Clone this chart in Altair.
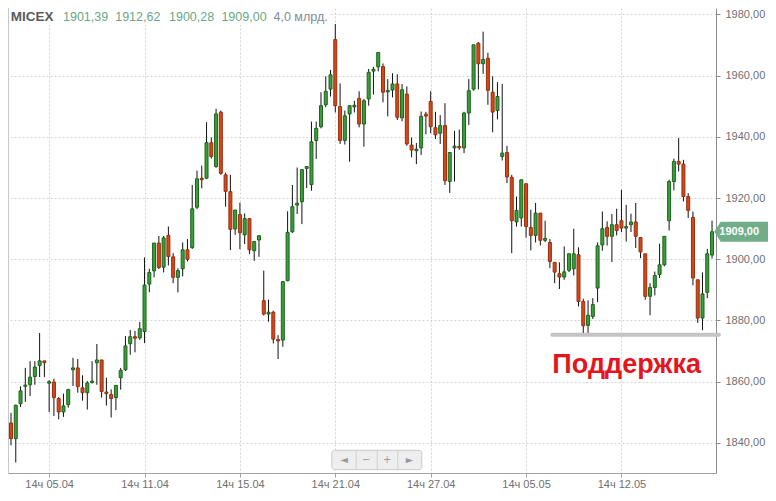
import altair as alt
import pandas as pd

# ---------------- data ----------------
opens = [1846.5, 1841.4, 1852.8, 1858.5, 1859.0, 1861.7, 1865.3, 1866.8, 1859.5, 1859.9,
         1854.5, 1850.1, 1852.5, 1863.9, 1864.5, 1858.0, 1856.4, 1859.7, 1866.2, 1867.1,
         1856.6, 1855.8, 1854.8, 1861.3, 1863.9, 1872.4, 1874.7, 1874.3, 1876.4, 1891.9,
         1896.2, 1905.3, 1897.4, 1907.8, 1900.8, 1894.1, 1896.9, 1903.1, 1903.8, 1917.0,
         1926.5, 1926.5, 1938.1, 1930.3, 1948.1, 1927.6, 1922.1, 1909.9, 1914.6, 1908.0,
         1913.3, 1902.8, 1906.3, 1886.5, 1882.1, 1882.7, 1873.8, 1873.6, 1893.0, 1909.0,
         1917.7, 1918.8, 1929.7, 1924.4, 1938.8, 1943.3, 1950.5, 1955.6, 1971.8, 1949.9,
         1938.8, 1947.5, 1949.8, 1952.6, 1944.2, 1952.4, 1961.5, 1962.9, 1963.0, 1954.7,
         1955.3, 1957.3, 1946.2, 1954.0, 1937.3, 1935.5, 1936.4, 1947.4, 1951.6, 1943.0,
         1941.2, 1943.7, 1925.4, 1936.4, 1936.9, 1936.4, 1947.8, 1955.6, 1970.6, 1963.9,
         1965.7, 1954.6, 1948.6, 1933.6, 1934.9, 1926.8, 1912.2, 1913.5, 1924.7, 1910.4,
         1907.8, 1915.1, 1906.2, 1905.5, 1899.0, 1895.3, 1894.2, 1896.4, 1896.9, 1901.5,
         1886.2, 1878.4, 1881.3, 1890.6, 1904.7, 1910.4, 1907.5, 1911.3, 1912.6, 1910.2,
         1911.3, 1912.2, 1907.1, 1901.8, 1887.9, 1890.8, 1895.0, 1898.2, 1912.6, 1925.4,
         1932.0, 1931.1, 1920.5, 1913.7, 1893.3, 1880.8, 1889.2, 1901.39]
highs = [1849.8, 1852.5, 1858.5, 1864.5, 1866.7, 1866.7, 1875.9, 1866.8, 1860.5, 1861.0,
         1855.0, 1856.1, 1857.7, 1867.8, 1867.4, 1862.1, 1860.2, 1866.7, 1872.3, 1867.1,
         1861.3, 1857.5, 1858.8, 1864.5, 1874.9, 1876.9, 1876.6, 1879.5, 1900.6, 1896.9,
         1905.3, 1907.6, 1907.6, 1910.7, 1902.0, 1897.1, 1905.5, 1906.6, 1924.3, 1929.0,
         1930.6, 1944.8, 1939.8, 1949.2, 1948.6, 1928.3, 1927.6, 1916.1, 1918.5, 1915.0,
         1913.3, 1905.8, 1907.7, 1896.3, 1886.8, 1883.2, 1875.2, 1892.7, 1915.7, 1924.3,
         1930.0, 1929.5, 1930.3, 1945.0, 1945.0, 1954.6, 1959.8, 1961.9, 1976.9, 1957.5,
         1948.6, 1950.2, 1951.8, 1954.9, 1952.4, 1962.2, 1962.9, 1967.6, 1964.0, 1958.9,
         1960.8, 1960.5, 1957.3, 1956.5, 1939.8, 1938.0, 1948.3, 1948.2, 1954.9, 1948.2,
         1947.1, 1951.0, 1934.9, 1942.0, 1942.4, 1948.2, 1958.9, 1970.1, 1971.0, 1974.4,
         1967.5, 1959.8, 1957.9, 1957.3, 1937.1, 1927.6, 1920.5, 1926.0, 1924.7, 1916.2,
         1918.4, 1915.1, 1912.6, 1906.6, 1899.0, 1899.0, 1904.2, 1901.8, 1910.0, 1903.9,
         1887.1, 1886.6, 1887.3, 1905.5, 1915.6, 1912.4, 1914.8, 1916.5, 1922.7, 1917.8,
         1914.9, 1918.4, 1907.1, 1901.8, 1892.2, 1896.0, 1905.1, 1907.5, 1926.0, 1932.9,
         1939.6, 1932.5, 1921.6, 1915.6, 1893.3, 1895.7, 1903.4, 1912.62]
lows = [1839.2, 1833.6, 1851.7, 1853.4, 1855.3, 1859.0, 1861.5, 1861.5, 1850.1, 1848.8,
        1847.7, 1848.5, 1851.5, 1858.6, 1856.4, 1853.8, 1850.9, 1859.4, 1859.0, 1854.8,
        1852.2, 1848.3, 1850.7, 1857.4, 1863.5, 1868.8, 1869.6, 1873.7, 1872.6, 1889.2,
        1894.1, 1896.8, 1895.7, 1898.0, 1892.2, 1889.2, 1894.4, 1899.3, 1903.4, 1916.4,
        1923.2, 1926.2, 1932.9, 1929.9, 1927.6, 1917.2, 1903.0, 1908.0, 1903.3, 1905.0,
        1901.7, 1899.5, 1900.8, 1881.6, 1879.6, 1872.5, 1867.4, 1871.4, 1892.8, 1908.6,
        1914.8, 1911.5, 1923.3, 1922.4, 1932.8, 1942.8, 1949.7, 1953.2, 1948.0, 1937.7,
        1937.5, 1931.9, 1948.0, 1943.1, 1936.8, 1950.2, 1953.8, 1961.4, 1951.3, 1946.7,
        1952.9, 1945.5, 1945.1, 1937.1, 1933.3, 1931.1, 1934.1, 1940.9, 1941.2, 1939.3,
        1937.7, 1924.3, 1921.7, 1925.4, 1935.8, 1934.7, 1943.9, 1955.1, 1955.5, 1960.6,
        1950.5, 1941.5, 1945.7, 1932.3, 1924.9, 1902.0, 1910.7, 1910.7, 1907.1, 1902.9,
        1905.5, 1904.5, 1905.6, 1897.1, 1892.2, 1890.3, 1893.3, 1895.8, 1894.7, 1884.6,
        1875.9, 1875.3, 1880.5, 1886.0, 1902.8, 1904.5, 1899.1, 1907.8, 1908.9, 1905.8,
        1908.9, 1903.7, 1900.4, 1886.8, 1881.7, 1888.2, 1893.9, 1897.7, 1909.4, 1922.5,
        1928.7, 1918.9, 1913.5, 1891.5, 1879.2, 1876.8, 1887.3, 1900.28]
closes = [1841.4, 1852.3, 1857.0, 1858.9, 1861.5, 1864.8, 1866.8, 1866.2, 1860.0, 1854.8,
          1850.1, 1852.1, 1857.4, 1864.5, 1858.4, 1856.4, 1859.6, 1860.2, 1867.1, 1856.8,
          1856.1, 1854.5, 1858.8, 1863.7, 1871.7, 1874.7, 1874.2, 1877.3, 1891.6, 1895.7,
          1905.3, 1897.3, 1907.0, 1900.9, 1894.1, 1896.3, 1903.1, 1900.0, 1916.5, 1926.3,
          1926.0, 1938.1, 1933.6, 1947.5, 1928.1, 1922.2, 1909.8, 1916.1, 1908.7, 1913.3,
          1903.1, 1905.8, 1907.7, 1882.1, 1882.7, 1873.9, 1873.3, 1892.7, 1908.8, 1917.2,
          1918.3, 1929.3, 1930.3, 1938.4, 1942.8, 1950.2, 1954.9, 1960.3, 1950.2, 1938.8,
          1946.9, 1950.2, 1950.3, 1944.2, 1951.8, 1961.1, 1962.1, 1967.6, 1954.6, 1955.2,
          1957.3, 1946.4, 1955.4, 1937.7, 1935.7, 1936.0, 1946.7, 1946.8, 1943.3, 1940.7,
          1943.7, 1925.7, 1934.9, 1937.0, 1936.4, 1947.8, 1955.1, 1970.1, 1963.9, 1965.3,
          1955.2, 1948.1, 1953.2, 1934.7, 1926.9, 1912.6, 1916.0, 1926.0, 1910.7, 1907.8,
          1915.1, 1906.2, 1906.8, 1899.3, 1895.8, 1894.2, 1895.9, 1901.8, 1901.8, 1886.2,
          1878.3, 1881.7, 1885.2, 1904.4, 1910.0, 1907.5, 1911.3, 1909.4, 1910.2, 1910.7,
          1912.2, 1907.5, 1902.4, 1887.9, 1890.8, 1894.7, 1898.2, 1907.5, 1925.4, 1932.0,
          1931.1, 1920.5, 1916.0, 1893.9, 1880.8, 1888.7, 1901.8, 1909.00]

tick_idx = [9, 29, 49, 69, 89, 109, 129]
tick_labels = ["14ч 05.04", "14ч 11.04", "14ч 15.04", "14ч 21.04",
               "14ч 27.04", "14ч 05.05", "14ч 12.05"]
y_ticks = [1840, 1860, 1880, 1900, 1920, 1940, 1960, 1980]

header_name = "MICEX"
header_values = ["1901,39", "1912,62", "1900,28", "1909,00"]
volume_text = "4,0 млрд."
last_close = closes[-1]
last_label = "1909,00"

support_level = 1875.3
support_from = 114.5
support_to = 149.46
support_text = "Поддержка"
support_text_idx = 130.1
support_text_level = 1863.0

nav_glyphs = ["◄", "−", "+", "►"]

# ---------------- build ----------------
n = len(closes)
df = pd.DataFrame({
    "idx": list(range(1, n + 1)),
    "open": opens, "high": highs, "low": lows, "close": closes,
})
df["dir"] = ["up" if c >= o else "down" for o, c in zip(opens, closes)]

W, H = 708, 465
FONT = "Liberation Sans"
GREEN_FILL, GREEN_EDGE = "#3a9e3a", "#1d631d"
RED_FILL, RED_EDGE = "#d5471b", "#96300e"

xscale = alt.Scale(domain=[0.37, 148.83], nice=False, zero=False, padding=0)
yscale = alt.Scale(domain=[1830.16, 1982.12], nice=False, zero=False, padding=0)

label_arr = "[" + ",".join("'" + s + "'" for s in tick_labels) + "]"
xaxis = alt.Axis(values=tick_idx, labelExpr=label_arr + "[(datum.value - 9) / 20]",
                 title=None, grid=True, gridDash=[2, 2], gridColor="#d4d4d4",
                 domainColor="#a3a3a3", tickColor="#a3a3a3", tickSize=4,
                 labelColor="#707070", labelFontSize=11, labelFont=FONT,
                 labelPadding=1, labelFlush=False)
yaxis = alt.Axis(orient="right", values=y_ticks,
                 labelExpr="replace(format(datum.value, '.2f'), '.', ',')",
                 title=None, grid=True, gridDash=[2, 2], gridColor="#d4d4d4",
                 domainColor="#8d8d8d", tickColor="#8d8d8d", tickSize=4,
                 labelColor="#707070", labelFontSize=11, labelFont=FONT,
                 labelPadding=5, labelFlush=False)


def X(f):
    return alt.X(f, type="quantitative", scale=xscale, axis=xaxis)


def Y(f):
    return alt.Y(f, type="quantitative", scale=yscale, axis=yaxis)


one = pd.DataFrame({"a": [0]})
base = alt.Chart(df)

wicks = base.mark_rule(color="#111111", strokeWidth=1).encode(
    x=X("idx"), y=Y("low"), y2="high")

fill_scale = alt.Scale(domain=["up", "down"], range=[GREEN_FILL, RED_FILL])
edge_scale = alt.Scale(domain=["up", "down"], range=[GREEN_EDGE, RED_EDGE])
bodies = base.mark_bar(size=3, strokeWidth=1, opacity=1).encode(
    x=X("idx"), y=Y("open"), y2="close",
    fill=alt.Fill("dir:N", scale=fill_scale, legend=None),
    stroke=alt.Stroke("dir:N", scale=edge_scale, legend=None))

# header background & texts
header_bg = alt.Chart(one).mark_rect(color="white").encode(
    x=alt.value(1), x2=alt.value(323), y=alt.value(0), y2=alt.value(17))
left_border = alt.Chart(one).mark_rule(color="#c8c8c8", strokeWidth=1).encode(
    x=alt.value(0.5), y=alt.value(0), y2=alt.value(H))

hy = 12.8
texts = [alt.Chart(one).mark_text(text=header_name, font=FONT, fontSize=13.5,
                                  fontWeight="bold", color="#5a5a5a",
                                  align="left", baseline="alphabetic").encode(
    x=alt.value(2.7), y=alt.value(hy))]
for v, px in zip(header_values, [55.0, 107.2, 161.0, 213.4]):
    texts.append(alt.Chart(one).mark_text(text=v, font=FONT, fontSize=12.5,
                                          color="#6aa784", align="left",
                                          baseline="alphabetic").encode(
        x=alt.value(px), y=alt.value(hy)))
texts.append(alt.Chart(one).mark_text(text=volume_text, font=FONT, fontSize=12.5,
                                      color="#7d8c9c", align="left",
                                      baseline="alphabetic").encode(
    x=alt.value(265.5), y=alt.value(hy)))

# support line and label
sup_df = pd.DataFrame({"from": [support_from], "to": [support_to], "level": [support_level]})
support = alt.Chart(sup_df).mark_rule(color="#c4c4c4", strokeWidth=4,
                                      strokeCap="round").encode(
    x=X("from"), x2="to", y=Y("level"))
sup_txt_df = pd.DataFrame({"i": [support_text_idx], "v": [support_text_level]})
support_label = alt.Chart(sup_txt_df).mark_text(
    text=support_text, font=FONT, fontSize=27, fontWeight="bold",
    color="#e5151d", align="center", baseline="alphabetic").encode(
    x=X("i"), y=Y("v"))

# last price tag
tag_df = pd.DataFrame({"v": [last_close]})
tag_path = "M -1 0 L -0.765 -0.372 L 1 -0.372 L 1 0.372 L -0.765 0.372 Z"
tag = alt.Chart(tag_df).mark_point(shape=tag_path, size=2884, filled=True,
                                   color="#72ad8a", opacity=1, strokeWidth=0).encode(
    x=alt.value(733.15), y=Y("v"))
tag_text = alt.Chart(tag_df).mark_text(text=last_label, font=FONT, fontSize=11,
                                       fontWeight="bold", color="white",
                                       align="center", baseline="middle").encode(
    x=alt.value(731.2), y=Y("v"))

# navigation widget
nav_box = alt.Chart(one).mark_rect(fill="#eeeeee", stroke="#c9c9c9", strokeWidth=1,
                                   cornerRadius=3).encode(
    x=alt.value(323.8), x2=alt.value(413.8), y=alt.value(442.3), y2=alt.value(461.6))
nav_divs = [alt.Chart(one).mark_rule(color="#cfcfcf").encode(
    x=alt.value(dx), y=alt.value(442.8), y2=alt.value(461.1))
    for dx in [348.2, 369.2, 389.8]]
nav_txt = [alt.Chart(one).mark_text(text=g, font="DejaVu Sans", fontSize=10,
                                    color="#9a9a9a", align="center",
                                    baseline="middle").encode(
    x=alt.value(gx), y=alt.value(452))
    for g, gx in zip(nav_glyphs, [336.2, 358.2, 379.2, 401.5])]

chart = alt.layer(
    header_bg, left_border, wicks, bodies, *texts, support, support_label,
    nav_box, *nav_divs, *nav_txt, tag, tag_text
).properties(
    width=W, height=H,
    autosize=alt.AutoSizeParams(type="none"),
    padding={"left": 0, "top": 0, "right": 52, "bottom": 16},
    background="white",
).configure_view(strokeWidth=0)

chart.save("out.html", embed_options={"renderer": "svg", "actions": False})
